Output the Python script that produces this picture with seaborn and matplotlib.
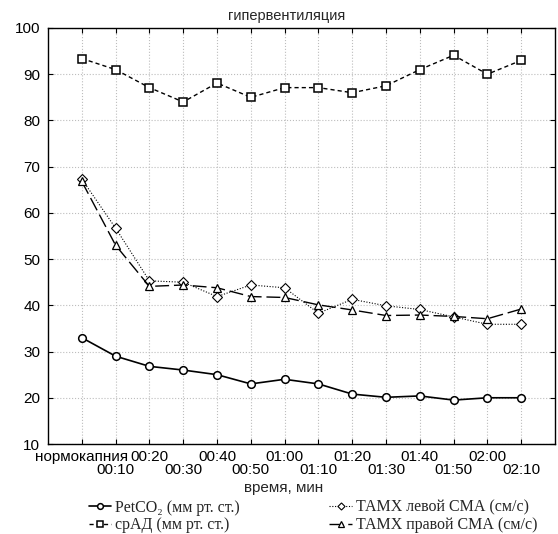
import numpy as np
import pandas as pd
import matplotlib
matplotlib.use("Agg")
import matplotlib.pyplot as plt
import seaborn as sns

categories = ["нормокапния", "00:10", "00:20", "00:30", "00:40", "00:50", "01:00",
              "01:10", "01:20", "01:30", "01:40", "01:50", "02:00", "02:10"]
petco2 = [33, 29, 26.8, 26, 25, 23, 24, 23, 20.8, 20.1, 20.4, 19.5, 20, 20]
srad = [93.4, 91, 87.1, 84, 88.1, 85, 87.1, 87.1, 86, 87.5, 91, 94.1, 90, 93]
tamx_left = [67.3, 56.7, 45.3, 45, 41.9, 44.4, 43.8, 38.3, 41.3, 39.9, 39.1, 37.5, 35.9, 35.9]
tamx_right = [66.8, 53, 44.1, 44.4, 43.8, 41.9, 41.7, 40.1, 39, 37.8, 37.9, 37.6, 37.1, 39.2]
yticks = [10, 20, 30, 40, 50, 60, 70, 80, 90, 100]
title = "гипервентиляция"
xlabel = "время, мин"
labels = ["PetCO₂ (мм рт. ст.)", "срАД (мм рт. ст.)",
          "ТАМХ левой СМА (см/с)", "ТАМХ правой СМА (см/с)"]

sns.set_style("ticks")
plt.rcParams["font.family"] = ["Liberation Sans", "DejaVu Sans"]

x = np.arange(len(categories))
df = pd.DataFrame({"x": x, "petco2": petco2, "srad": srad,
                   "left": tamx_left, "right": tamx_right})

fig = plt.figure(figsize=(5.58, 5.34), dpi=100)
ax = fig.add_axes([48 / 558, 1 - 444 / 534, (555 - 48) / 558, (444 - 28) / 534])

common = dict(color="black", markerfacecolor="white", markeredgecolor="black",
              markersize=5.5, ax=ax)
sns.lineplot(data=df, x="x", y="petco2", marker="o", linewidth=1.2,
             markeredgewidth=1.1, label=labels[0], **common)
sns.lineplot(data=df, x="x", y="srad", marker="s", linewidth=1.0,
             dashes=(3, 2.2), markeredgewidth=1.1, label=labels[1], **common)
sns.lineplot(data=df, x="x", y="left", marker="D", linewidth=0.8,
             dashes=(1, 1.5), markeredgewidth=0.8, label=labels[2],
             **{**common, "markersize": 4.8})
sns.lineplot(data=df, x="x", y="right", marker="^", linewidth=1.0,
             dashes=(10, 3.5), markeredgewidth=0.9, label=labels[3], **common)

ax.set_xlim(-1, len(categories))
ax.set_ylim(10, 100)
ax.set_yticks(yticks)
ax.set_yticklabels([str(v) for v in yticks], fontsize=11)
even = x[::2]
odd = x[1::2]
ax.set_xticks(even)
ax.set_xticklabels([categories[i] for i in even], fontsize=11)
ax.set_xticks(odd, minor=True)
ax.set_xticklabels([categories[i] for i in odd], minor=True, fontsize=11)
ax.tick_params(axis="both", which="both", direction="in", length=3.5, width=0.8,
               top=True, right=True, colors="black")
ax.tick_params(axis="x", which="major", pad=4)
ax.tick_params(axis="x", which="minor", pad=13.5)
ax.tick_params(axis="y", pad=5.5)
ax.grid(True, which="both", color="#bdbdbd", linestyle=":", linewidth=0.8)
ax.set_xlabel("")
ax.set_ylabel("")
for s in ax.spines.values():
    s.set_visible(True)
    s.set_color("black")
    s.set_linewidth(1.0)

fig.text(286.5 / 558, 1 - 20 / 534, title, ha="center", va="baseline", fontsize=10.5)
fig.text(283.5 / 558, 1 - 492 / 534, xlabel, ha="center", va="baseline", fontsize=11)

handles, _ = ax.get_legend_handles_labels()
ax.legend_.remove() if ax.legend_ else None
fig.legend(handles, labels, ncol=2, loc="center",
           bbox_to_anchor=(313 / 558, 1 - 516.5 / 534), bbox_transform=fig.transFigure,
           frameon=False, borderpad=0, borderaxespad=0, handlelength=1.4,
           handletextpad=0.25, columnspacing=5.6, labelspacing=0.1, markerscale=0.75,
           prop={"family": ["Liberation Serif", "DejaVu Serif"], "size": 11.5})

fig.savefig("out.png", dpi=100)
